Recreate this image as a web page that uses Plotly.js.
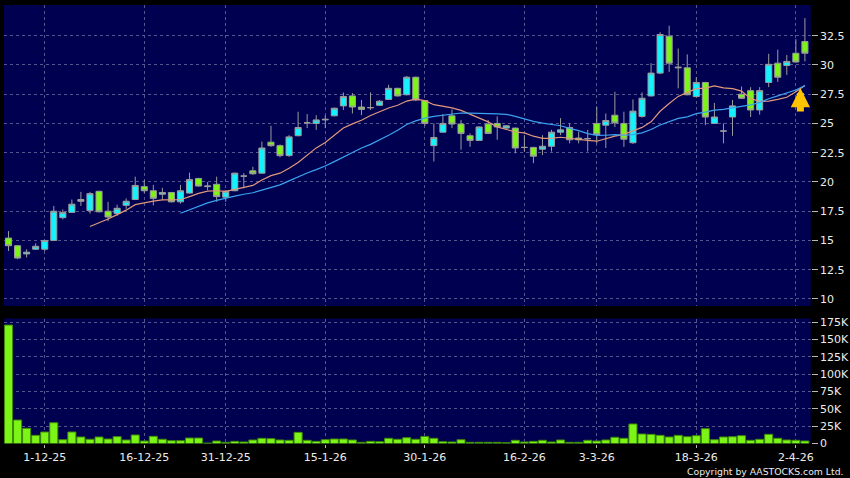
<!DOCTYPE html>
<html>
<head>
<meta charset="utf-8">
<script src="https://cdn.plot.ly/plotly-3.0.1.min.js"></script>
<style>
html,body{margin:0;padding:0;background:#000;}
#chart{width:850px;height:478px;}
</style>
</head>
<body>
<div id="chart"></div>
<script>
// Daily candles (index 0 = first trading day shown)
const openP = [15.2,14.55,13.85,14.25,14.25,15.0,16.95,17.4,18.5,17.55,
  19.2,17.5,17.3,18.0,18.5,19.6,19.25,18.95,19.1,18.3,
  19.05,20.3,19.6,19.8,18.7,19.25,20.5,20.95,20.75,23.4,
  23.1,22.25,23.95,25.05,25.0,25.3,25.65,26.5,27.35,26.4,
  26.35,26.55,27.05,28.0,27.45,28.95,26.95,23.1,24.25,25.65,
  24.95,23.95,23.55,24.95,25.0,24.6,24.6,22.95,22.95,22.8,
  23.05,24.25,24.65,23.75,23.7,25.0,24.85,25.7,25.0,23.35,
  25.6,27.35,29.3,32.45,29.75,29.75,27.3,28.5,25.0,24.35,
  25.55,27.5,27.8,26.15,28.5,30.15,29.95,31.0,32.0];
const highP = [15.8,14.6,14.25,14.75,15.05,17.95,17.65,18.5,19.15,19.15,
  19.25,18.3,18.05,18.6,20.45,20.15,19.75,19.5,19.15,19.75,
  20.8,20.35,20.0,20.45,19.3,20.8,20.75,21.3,23.45,24.8,
  23.2,24.0,26.0,25.8,25.7,25.7,26.35,27.65,27.6,27.0,
  27.65,27.0,28.3,28.05,29.05,29.0,27.0,25.0,25.8,26.2,
  25.3,24.15,24.75,25.3,25.6,24.85,24.65,24.0,23.0,24.0,
  24.45,25.45,25.0,24.3,24.45,26.45,25.85,27.7,26.0,27.05,
  27.65,30.15,32.8,33.35,31.4,30.9,28.95,28.55,26.75,25.0,
  27.0,28.15,28.1,28.1,30.95,31.3,30.85,32.2,34.0];
const lowP = [14.1,13.4,13.55,14.2,14.1,14.95,16.8,17.35,17.95,17.3,
  17.4,16.65,17.1,17.7,18.45,19.05,18.0,18.45,18.25,18.15,
  19.0,19.6,19.3,18.3,18.3,19.2,19.45,20.6,20.7,23.0,
  22.1,22.15,23.9,24.6,24.45,24.6,25.6,26.15,25.85,25.7,
  26.15,26.5,27.0,27.3,27.4,26.9,24.8,21.75,24.2,24.6,
  22.75,23.0,23.5,24.1,23.6,24.5,22.45,22.6,21.6,22.3,
  22.6,24.0,23.3,23.3,22.6,23.3,22.9,24.7,23.0,23.25,
  25.5,27.3,29.2,29.4,28.0,27.4,27.2,24.85,24.95,23.3,
  23.95,27.1,25.55,25.75,28.1,28.55,29.15,30.2,30.3];
const closeP = [14.55,13.5,14.0,14.5,15.0,17.5,17.4,18.1,18.35,19.0,
  17.45,17.0,17.75,18.35,19.7,19.25,18.6,19.1,18.3,19.25,
  20.2,19.65,19.65,18.75,19.2,20.75,20.5,20.7,22.9,23.1,
  22.25,23.85,24.65,25.05,25.3,25.35,26.3,27.3,26.4,26.2,
  26.35,26.9,28.0,27.35,28.95,27.0,25.0,23.8,25.0,24.95,
  24.15,23.55,24.7,24.15,24.7,24.8,22.9,22.95,22.2,23.05,
  24.25,24.45,23.6,23.6,23.7,24.05,25.25,25.05,23.65,26.05,
  27.15,29.3,32.6,30.15,29.8,27.45,28.5,25.55,25.55,24.35,
  26.5,27.15,26.15,27.8,30.05,28.95,30.3,30.25,31.0];
// Volume in thousands of shares
const volumeK = [171,33.9,21.9,11.8,16.6,30.0,5.5,16.6,9.4,6.1,
  9.4,6.5,9.9,5.1,12.3,3.6,10.4,6.1,4.1,4.1,
  7.9,7.9,0.7,3.6,1.7,3.1,2.2,5.1,7.5,7.0,
  5.1,4.6,16.1,4.6,3.1,5.5,6.5,6.5,5.1,1.7,
  3.1,2.6,7.5,6.1,8.4,6.1,10.2,7.5,2.6,2.2,
  5.5,1.7,1.7,1.7,1.7,1.2,4.6,2.2,3.1,4.6,
  2.2,5.1,1.7,1.7,4.6,3.6,5.1,9.0,7.5,28.2,
  13.7,13.2,11.8,9.4,11.8,9.8,11.3,21.4,5.5,9.4,
  9.8,11.3,4.6,6.0,13.3,7.5,5.1,4.6,3.6];
// 10-day moving average, starting at candle 9
const ma10Start = 9;
const ma10 = [16.19,16.48,16.83,17.21,17.59,18.06,18.24,18.36,18.46,18.45,
  18.48,18.75,19.02,19.21,19.25,19.2,19.35,19.54,19.7,20.16,
  20.54,20.75,21.17,21.67,22.3,22.91,23.37,23.95,24.61,24.96,
  25.27,25.68,25.98,26.32,26.55,26.91,27.08,26.95,26.6,26.46,
  26.33,26.11,25.78,25.45,25.13,24.7,24.48,24.27,24.19,23.91,
  23.72,23.73,23.82,23.71,23.65,23.55,23.48,23.71,23.92,24.07,
  24.37,24.66,25.14,26.04,26.7,27.31,27.65,27.97,28.02,28.21,
  28.04,27.98,27.76,27.12,26.88,26.91,27.06,27.24,27.71,28.25];
// 20-day moving average, starting at candle 19
const ma20Start = 19;
const ma20 = [17.33,17.62,17.92,18.21,18.42,18.63,18.79,18.95,19.08,19.3,
  19.51,19.75,20.09,20.44,20.77,21.05,21.36,21.74,22.15,22.56,
  22.9,23.21,23.57,23.99,24.42,24.91,25.22,25.45,25.6,25.71,
  25.8,25.89,25.88,25.88,25.84,25.81,25.78,25.61,25.39,25.18,
  25.02,24.92,24.8,24.58,24.39,24.13,23.98,23.99,24.05,23.99,
  24.04,24.19,24.48,24.87,25.17,25.43,25.56,25.84,25.97,26.14,
  26.2,26.32,26.45,26.58,26.79,27.11,27.35,27.6,27.86,28.23];

const xTickIdx = [4,15,24,35,46,57,65,76,87];
const xTickLabels = ['1-12-25','16-12-25','31-12-25','15-1-26','30-1-26','16-2-26','3-3-26','18-3-26','2-4-26'];
const priceTicks = [10,12.5,15,17.5,20,22.5,25,27.5,30,32.5];
const priceTickText = ['10','12.5','15','17.5','20','22.5','25','27.5','30','32.5'];
const volTicks = [0,25,50,75,100,125,150,175];
const volTickText = ['0','25K','50K','75K','100K','125K','150K','175K'];

const idx = closeP.map((_, i) => i);
const ma10x = ma10.map((_, i) => i + ma10Start);
const ma20x = ma20.map((_, i) => i + ma20Start);

const gridColor = '#55558f';
const tickColor = '#b8b8b8';
const txtColor = '#ececec';

const traces = [
  {
    type: 'candlestick', x: idx, open: openP, high: highP, low: lowP, close: closeP,
    xaxis: 'x', yaxis: 'y', whiskerwidth: 0, hoverinfo: 'skip',
    increasing: {fillcolor: '#12f2ff', line: {color: '#9c9c9c', width: 1}},
    decreasing: {fillcolor: '#7cf516', line: {color: '#9c9c9c', width: 1}}
  },
  {
    type: 'scatter', mode: 'lines', x: ma10x, y: ma10, xaxis: 'x', yaxis: 'y',
    line: {color: '#e0987a', width: 1.2}, hoverinfo: 'skip'
  },
  {
    type: 'scatter', mode: 'lines', x: ma20x, y: ma20, xaxis: 'x', yaxis: 'y',
    line: {color: '#3aa2ee', width: 1.2}, hoverinfo: 'skip'
  },
  {
    type: 'bar', x: idx, y: volumeK, xaxis: 'x2', yaxis: 'y2',
    marker: {color: '#7cf516', line: {color: '#3f8a08', width: 1}}, hoverinfo: 'skip'
  }
];

const xRange = [-0.5, 88.64];
const xDomain = [4/850, 810.7/850];
const commonX = {
  range: xRange, domain: xDomain, tickvals: xTickIdx, ticktext: xTickLabels,
  showgrid: true, gridcolor: gridColor, gridwidth: 1, griddash: '3px,3px',
  zeroline: false, showline: false, fixedrange: true
};

const layout = {
  width: 850, height: 478,
  margin: {l: 0, r: 0, t: 0, b: 0},
  paper_bgcolor: '#000000',
  plot_bgcolor: '#000050',
  showlegend: false,
  hovermode: false,
  boxgap: 0.04,
  bargap: 0.11,
  font: {family: 'DejaVu Sans, Verdana, sans-serif', size: 11, color: txtColor},
  xaxis: Object.assign({}, commonX, {
    anchor: 'y', showticklabels: false, ticks: '',
    rangeslider: {visible: false}
  }),
  xaxis2: Object.assign({}, commonX, {
    anchor: 'y2', showticklabels: true, ticks: 'outside', ticklen: 3,
    tickcolor: tickColor, tickwidth: 1, ticklabelstandoff: 0,
    tickfont: {size: 11, color: txtColor}
  }),
  yaxis: {
    domain: [1 - 306/478, 1 - 5/478], range: [9.40, 35.12], anchor: 'x',
    side: 'right', tickvals: priceTicks, ticktext: priceTickText,
    ticks: 'outside', ticklen: 6, tickcolor: tickColor, tickwidth: 1,
    showgrid: true, gridcolor: gridColor, gridwidth: 1, griddash: '3px,3px',
    zeroline: false, showline: false, fixedrange: true,
    tickfont: {size: 11, color: txtColor}
  },
  yaxis2: {
    domain: [1 - 443.5/478, 1 - 318.5/478], range: [0, 180.5], anchor: 'x2',
    side: 'right', tickvals: volTicks, ticktext: volTickText,
    ticks: 'outside', ticklen: 6, tickcolor: tickColor, tickwidth: 1,
    showgrid: true, gridcolor: gridColor, gridwidth: 1, griddash: '3px,3px',
    zeroline: false, showline: false, fixedrange: true,
    tickfont: {size: 11, color: txtColor}
  },
  annotations: [
    {
      xref: 'paper', yref: 'paper', x: 846/850, y: 7/478,
      xanchor: 'right', yanchor: 'middle', showarrow: false,
      text: 'Copyright by AASTOCKS.com Ltd.',
      font: {size: 9.3, color: txtColor}
    },
    {
      xref: 'x', yref: 'y', x: idx[idx.length - 1] - 0.5, y: ma20[ma20.length - 1] - 0.2,
      ax: 0, ay: 25, showarrow: true, arrowhead: 2, arrowsize: 0.55,
      arrowwidth: 7, arrowcolor: '#ffc400', standoff: 0, text: ''
    }
  ]
};

Plotly.newPlot('chart', traces, layout, {displayModeBar: false, staticPlot: true});
</script>
</body>
</html>
